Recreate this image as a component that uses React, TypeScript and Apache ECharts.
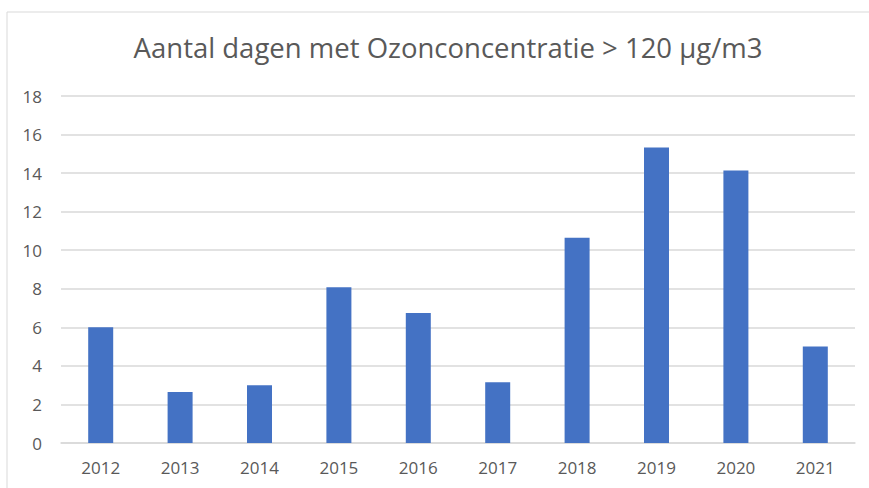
import React, { useEffect, useRef } from "react";
import * as echarts from "echarts";

const categories = ["2012", "2013", "2014", "2015", "2016", "2017", "2018", "2019", "2020", "2021"];
const values = [6, 2.65, 3, 8.08, 6.74, 3.15, 10.65, 15.33, 14.14, 5];
const titleText = "Aantal dagen met Ozonconcentratie > 120 µg/m3";

export default function App() {
  const ref = useRef<HTMLDivElement>(null);
  useEffect(() => {
    document.body.style.margin = "0";
    const chart = echarts.init(ref.current!, null, { renderer: "svg" });
    chart.setOption({
      animation: false,
      backgroundColor: "#ffffff",
      title: {
        text: titleText,
        left: 443,
        textAlign: "center",
        top: 28,
        textStyle: { fontFamily: "Open Sans", fontWeight: 400, fontSize: 27.5, color: "#595959" },
      },
      graphic: [
        {
          type: "rect",
          shape: { x: 7, y: 12, width: 1000, height: 1000 },
          style: { fill: "none", stroke: "#d9d9d9", lineWidth: 1 },
          silent: true,
          z: -1,
        },
      ],
      grid: { left: 61, right: 14, top: 96, bottom: 45, containLabel: false },
      xAxis: {
        type: "category",
        data: categories,
        axisLine: { show: true, lineStyle: { color: "#d9d9d9", width: 1.5 } },
        axisTick: { show: false },
        axisLabel: { color: "#595959", fontSize: 17, fontFamily: "Open Sans", margin: 16 },
      },
      yAxis: {
        type: "value",
        min: 0,
        max: 18,
        interval: 2,
        axisLine: { show: false },
        axisTick: { show: false },
        axisLabel: { color: "#595959", fontSize: 17, fontFamily: "Open Sans", margin: 19 },
        splitLine: { lineStyle: { color: "#d9d9d9", width: 1.5 } },
      },
      series: [
        {
          type: "bar",
          data: values,
          barWidth: 25,
          itemStyle: { color: "#4472C4" },
        },
      ],
    });
    return () => chart.dispose();
  }, []);
  return <div ref={ref} style={{ width: 869, height: 488 }} />;
}
